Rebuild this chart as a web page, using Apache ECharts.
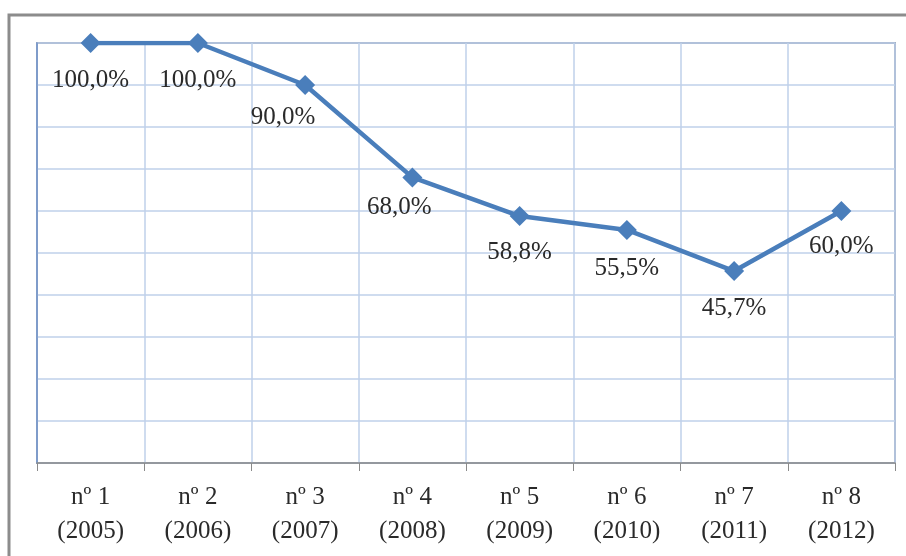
<!DOCTYPE html>
<html><head><meta charset="utf-8">
<script src="https://cdn.jsdelivr.net/npm/echarts@6/dist/echarts.min.js"></script>
<style>html,body{margin:0;padding:0;background:#fff}#c{width:906px;height:556px}</style>
</head><body><div id="c"></div>
<script>
const categories = ['nº 1\n(2005)','nº 2\n(2006)','nº 3\n(2007)','nº 4\n(2008)','nº 5\n(2009)','nº 6\n(2010)','nº 7\n(2011)','nº 8\n(2012)'];
const values = [100.0, 100.0, 90.0, 68.0, 58.8, 55.5, 45.7, 60.0];
const labelShift = [[0,0],[0,0],[-22,-5],[-13,-7],[0,-1],[0,1],[0,0],[0,-2]];

const chart = echarts.init(document.getElementById('c'), null, {renderer:'canvas'});
const font = '"Liberation Serif", "DejaVu Serif", serif';
chart.setOption({
  animation:false,
  backgroundColor:'#fff',
  graphic:[{type:'rect', shape:{x:9,y:15,width:920,height:560}, style:{fill:'none', stroke:'#8c8c8c', lineWidth:3}, silent:true}],
  grid:{left:37,right:11,top:43,bottom:93,show:true,borderColor:'#5f7393',borderWidth:1.5,backgroundColor:'transparent'},
  xAxis:{type:'category',data:categories,boundaryGap:true,
    axisLine:{lineStyle:{color:'#8a8a8a',width:1.5}},
    axisTick:{show:true,length:8,lineStyle:{color:'#8a8a8a'}},
    splitLine:{show:true,lineStyle:{color:'#bfd1ea',width:1.5}},
    axisLabel:{color:'#2a2a2a',fontFamily:font,fontSize:25,lineHeight:34,margin:17}},
  yAxis:{type:'value',min:0,max:100,interval:10,
    axisLine:{show:true,lineStyle:{color:'#6f8fc4',width:1.5}},
    axisTick:{show:false},axisLabel:{show:false},
    splitLine:{show:true,lineStyle:{color:'#bfd1ea',width:1.5}}},
  series:[{type:'line',
    data: values.map((v,i)=>({value:v,label:{offset:labelShift[i]}})),
    symbol:'diamond',symbolSize:20,
    lineStyle:{color:'#4a7ebb',width:4.5},
    itemStyle:{color:'#4a7ebb'},
    label:{show:true,position:'bottom',distance:15,color:'#2a2a2a',fontFamily:font,fontSize:25,
      formatter:p=>p.value.toFixed(1).replace('.',',')+'%'}}]
});
</script></body></html>
